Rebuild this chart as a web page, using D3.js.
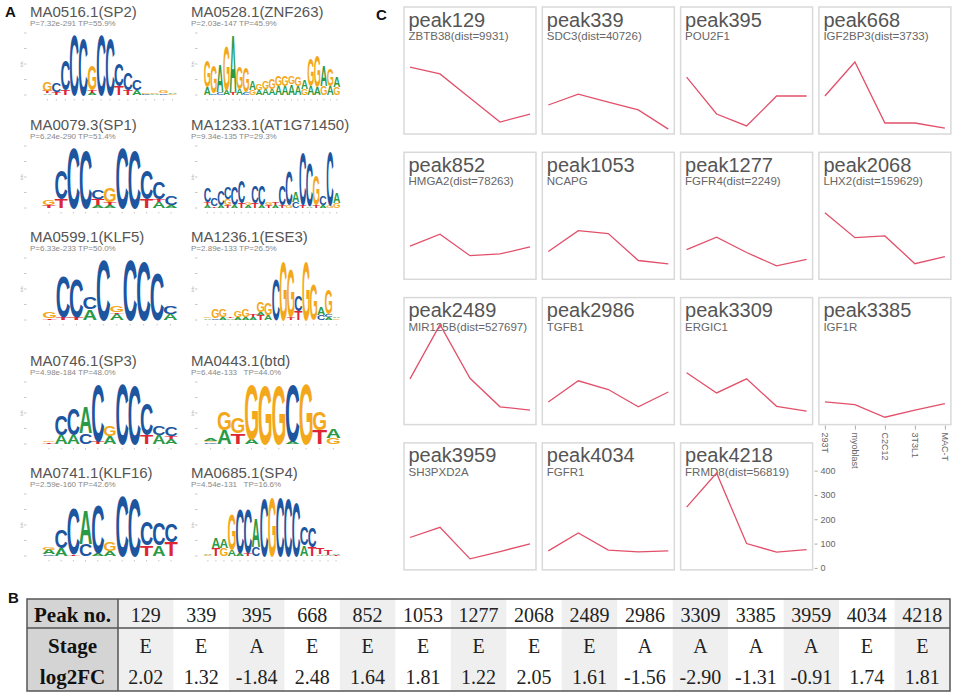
<!DOCTYPE html>
<html>
<head>
<meta charset="utf-8">
<title>Motifs and peaks</title>
<script src="https://cdn.jsdelivr.net/npm/d3@7"></script>
<style>
    body { margin: 0; background: #fff; }
    svg { display: block; font-family: Arial, "Liberation Sans", sans-serif; }
</style>
</head>
<body>
<svg id="fig" width="957" height="696"></svg>
<script>
    // ---- panel A : motif logos (columns bottom -> top, letter + bits) ----
    const motifIds = ["MA0516.1(SP2)", "MA0528.1(ZNF263)", "MA0079.3(SP1)", "MA1233.1(AT1G71450)",
        "MA0599.1(KLF5)", "MA1236.1(ESE3)", "MA0746.1(SP3)", "MA0443.1(btd)", "MA0741.1(KLF16)", "MA0685.1(SP4)"];
    const motifStats = ["P=7.32e-291 TP=55.9%", "P=2.03e-147 TP=45.9%", "P=6.24e-290 TP=51.4%", "P=9.34e-135 TP=29.3%",
        "P=6.33e-233 TP=50.0%", "P=2.89e-133 TP=26.5%", "P=4.98e-184 TP=48.0%", "P=6.44e-133   TP=44.0%",
        "P=2.59e-160 TP=42.6%", "P=4.54e-131   TP=16.6%"];

    const logoSP2 = ["A.05 T.08 G.3", "T.1 C.3", "T.15 C1.0", "C1.98", "C1.83", "A.08 T.07 G.8", "C1.98", "C1.83",
        "T.3 C.72", "T.15 C.55", "A.15 C.33", "C.04 G.04", "A.04 G.05", "C.05 G.06", "G.04 A.05"];
    const logoZNF263 = ["A.25 G.85", "C.05 G.9", "C.1 A.9", "A.15 G1.45", "T.1 A1.9", "A.2 G.75", "C.1 G.8", "G.15 A.3",
        "A.15 G.2", "A.2 G.25", "A.2 G.35", "A.3 G.35", "A.3 G.35", "A.35 G.25", "A.3 G.3", "G.2 A.3", "A.3 G.9",
        "A.25 G1.05", "G.3 A.7", "A.3 G.55", "G.25 A.35"];
    const logoSP1 = ["T.1 G.15", "T.3 C.95", "C1.97", "C1.9", "A.1 T.2 C.3", "A.1 T.1 G.45", "C1.97", "C1.9",
        "T.3 C.95", "A.2 T.1 C.55", "A.1 C.3"];
    const logoAT1G = ["A.1 T.1 C.45", "T.05 C.25", "A.1 C.45", "T.1 G.2 C.4", "A.1 C.6", "T.15 C.75", "A.1 G.1",
        "T.15 C.55", "A.1 C.65", "T.1 G.1", "A.1 T.1", "T.1 C.65", "G.1 C1.1", "C.2 A.35", "T.1 C1.7", "A.05 C1.4",
        "T.1 G1.0", "A.1 C.3", "G.1 C1.75", "G.15 A.35"];
    const logoKLF5 = ["T.05 G.2", "T.1 C1.35", "T.1 C1.25", "A.35 C.4", "C1.97", "A.2 T.05 G.2", "C1.97", "C1.93",
        "C1.55", "A.2 C.25"];
    const logoESE3 = ["A.05 G.05", "C.05 G.3", "A.1 G.25", "A.05 T.05", "A.1 G.2", "A.1 G.25", "A.1 T.1",
        "T.15 A.1 G.35", "A.15 G.4", "C1.35", "G1.95", "T.1 G1.6", "T.3 C.5", "G1.95", "G1.15", "C.15 A.25",
        "A.1 C.1 G.8", "G.05 A.05"];
    const logoSP3 = ["T.05 G.05", "A.3 C.65", "A.3 C.85", "C.35 A.85", "T.1 C1.85", "A.25 G.35", "C2.0", "C1.95",
        "T.3 C1.05", "A.3 C.3", "A.15 T.1 C.3"];
    const logoBtd = ["C.05 G.05 A.08", "A.45 G.6", "T.35 G.5", "A.15 G1.8", "G1.95", "G1.95", "A.1 C1.85", "G2.0",
        "T.45 G.6", "G.2 A.3"];
    const logoKLF16 = ["C.05 A.15 G.1", "A.25 C.6", "T.05 C1.5", "C.4 A1.1", "A.1 C1.6", "A.15 G.3", "C1.98",
        "C1.88", "T.35 C.75", "A.35 C.72", "T.45 C.62"];
    const logoSP4 = ["G.03 A.04", "T.25 A.35", "G.25 A.3", "A.2 G1.15", "A.1 C1.45", "T.1 C1.45", "C.3 A.95",
        "C1.9", "G1.95", "C1.95", "C1.9", "C1.75", "A.35 C.6", "T.3 C.65", "A.05 T.2", "A.03 T.15", "T.03 A.03"];

    const logos = [logoSP2, logoZNF263, logoSP1, logoAT1G, logoKLF5, logoESE3, logoSP3, logoBtd, logoKLF16, logoSP4];
    const logoTitleY = [17, 130, 242, 366, 478];

    // ---- panel C : peak signal across stages ----
    const stages = ["293T", "myoblast", "C2C12", "3T3L1", "MAC-T"];
    const peakNames = ["peak129", "peak339", "peak395", "peak668", "peak852", "peak1053", "peak1277", "peak2068",
        "peak2489", "peak2986", "peak3309", "peak3385", "peak3959", "peak4034", "peak4218"];
    const peakGenes = ["ZBTB38(dist=9931)", "SDC3(dist=40726)", "POU2F1", "IGF2BP3(dist=3733)", "HMGA2(dist=78263)",
        "NCAPG", "FGFR4(dist=2249)", "LHX2(dist=159629)", "MIR125B(dist=527697)", "TGFB1", "ERGIC1", "IGF1R",
        "SH3PXD2A", "FGFR1", "FRMD8(dist=56819)"];
    const peakValues = [
        [267, 239, 140, 41, 74],
        [111, 156, 123, 91, 12],
        [226, 74, 25, 148, 148],
        [148, 288, 37, 37, 16],
        [128, 177, 89, 96, 125],
        [106, 192, 180, 69, 55],
        [114, 165, 102, 47, 74],
        [265, 163, 170, 56, 85],
        [180, 403, 182, 65, 51],
        [85, 172, 136, 65, 126],
        [205, 122, 180, 67, 47],
        [85, 74, 22, 51, 78],
        [125, 167, 37, 67, 99],
        [70, 144, 73, 66, 70],
        [250, 390, 100, 65, 75]
    ];
    const yTicks = [0, 100, 200, 300, 400];

    // ---- panel B : table ----
    const peakNos = ["129", "339", "395", "668", "852", "1053", "1277", "2068", "2489", "2986", "3309", "3385", "3959", "4034", "4218"];
    const stageCalls = ["E", "E", "A", "E", "E", "E", "E", "E", "E", "A", "A", "A", "A", "E", "E"];
    const log2FC = ["2.02", "1.32", "-1.84", "2.48", "1.64", "1.81", "1.22", "2.05", "1.61", "-1.56", "-2.90", "-1.31", "-0.91", "1.74", "1.81"];
    const rowLabels = ["Peak no.", "Stage", "log2FC"];

    const svg = d3.select("#fig");
    const baseColor = { A: "#2a9a47", C: "#1d559f", G: "#f3a81c", T: "#de2533" };

    function parseCol(s) {
        return s.split(" ").map(p => [p[0], +p.slice(1)]);
    }

    function panelLabel(txt, x, y) {
        svg.append("text").attr("x", x).attr("y", y).attr("font-size", 15).attr("font-weight", "bold")
            .attr("fill", "#111").text(txt);
    }

    // ================= Panel A =================
    panelLabel("A", 5, 17);
    const gA = svg.append("g");

    function drawLogo(g, cols, x0, x1, yBase, axisX) {
        const x = d3.scaleBand().domain(d3.range(cols.length)).range([x0, x1]).paddingInner(0.02);
        const y = d3.scaleLinear().domain([0, 2]).range([yBase, yBase - 62]);
        // tiny bits axis
        [0, 0.5, 1, 1.5, 2].forEach(v => {
            g.append("line").attr("x1", axisX).attr("x2", axisX + 2.5).attr("y1", y(v)).attr("y2", y(v))
                .attr("stroke", "#bbb").attr("stroke-width", 0.8);
        });
        g.append("text").attr("transform", `translate(${axisX - 1},${y(1)}) rotate(-90)`)
            .attr("text-anchor", "middle").attr("font-size", 4).attr("fill", "#aaa").text("bits");
        cols.forEach((c, i) => {
            g.append("line").attr("x1", x(i) + x.bandwidth() / 2).attr("x2", x(i) + x.bandwidth() / 2)
                .attr("y1", yBase + 4).attr("y2", yBase + 5.5).attr("stroke", "#bbb").attr("stroke-width", 0.8);
            let acc = 0;
            parseCol(c).forEach(([b, h]) => {
                const yb = y(acc), yt = y(acc + h);
                acc += h;
                if (yb - yt < 0.4) return;
                const t = g.append("text").attr("font-size", 100).attr("font-weight", "bold")
                    .attr("fill", baseColor[b]).text(b);
                const adv = t.node().getComputedTextLength();
                const sx = x.bandwidth() / (adv * 0.9);
                t.attr("transform", `translate(${x(i) - adv * 0.05 * sx},${yb}) scale(${sx},${(yb - yt) / 72})`);
            });
        });
    }

    logos.forEach((cols, k) => {
        const col = k % 2, row = Math.floor(k / 2);
        const tx = col === 0 ? 30 : 191;
        const ty = logoTitleY[row];
        gA.append("text").attr("x", tx).attr("y", ty).attr("font-size", 15).attr("fill", "#555").text(motifIds[k]);
        gA.append("text").attr("x", tx).attr("y", ty + 9).attr("font-size", 8).attr("fill", "#888")
            .style("white-space", "pre").text(motifStats[k]);
        const x0 = col === 0 ? 43 : 204, x1 = col === 0 ? 177 : 340;
        drawLogo(gA, cols, x0, x1, ty + 78, col === 0 ? 24 : 195);
    });

    // ================= Panel C =================
    panelLabel("C", 376, 20);
    const boxW = 132, boxH = 127;
    const xC = d3.scalePoint().domain(stages).range([6, boxW - 6]);
    const yC = d3.scaleLinear().domain([0, 514]).range([boxH - 2, 0]);
    const line = d3.line().x((d, i) => xC(stages[i])).y(d => yC(d));

    peakNames.forEach((name, i) => {
        const left = 404 + (i % 4) * 138.3;
        const top = 7 + Math.floor(i / 4) * 145.3;
        const g = svg.append("g").attr("transform", `translate(${left},${top})`);
        g.append("rect").attr("x", 0).attr("y", 0).attr("width", boxW).attr("height", boxH)
            .attr("fill", "#fff").attr("stroke", "#d9d9d9").attr("stroke-width", 1.5);
        g.append("text").attr("x", 4.5).attr("y", 19.5).attr("font-size", 20).attr("fill", "#555").text(name);
        g.append("text").attr("x", 4.5).attr("y", 33).attr("font-size", 11.5).attr("fill", "#666").text(peakGenes[i]);
        g.append("path").datum(peakValues[i]).attr("d", line).attr("fill", "none")
            .attr("stroke", "#e2506a").attr("stroke-width", 1.3);

        if (name === "peak3385") {
            const ax = g.append("g").attr("transform", `translate(0,${boxH + 1})`)
                .call(d3.axisBottom(xC).tickSize(4));
            ax.select(".domain").remove();
            ax.selectAll("line").attr("stroke", "#aaa");
            ax.selectAll("text").attr("transform", "rotate(90)").attr("x", 7).attr("y", 0).attr("dy", "0.35em")
                .attr("text-anchor", "start").attr("font-size", 9).attr("fill", "#666")
                .attr("font-family", "Arial, 'Liberation Sans', sans-serif");
        }
        if (name === "peak4218") {
            const ay = g.append("g").attr("transform", `translate(${boxW + 2},0)`)
                .call(d3.axisRight(yC).tickValues(yTicks).tickSize(3).tickPadding(3));
            ay.select(".domain").remove();
            ay.selectAll("line").attr("stroke", "#aaa");
            ay.selectAll("text").attr("font-size", 9).attr("fill", "#666")
                .attr("font-family", "Arial, 'Liberation Sans', sans-serif");
        }
    });

    // ================= Panel B =================
    panelLabel("B", 8, 603);
    const tLeft = 27, tSplit = 118, tRight = 950;
    const rowY = [599, 628, 660, 691];
    const baseY = [622, 653, 684];
    const tx = d3.scaleBand().domain(peakNos).range([tSplit, tRight]);
    const gB = svg.append("g").attr("font-family", "'Liberation Serif', 'Times New Roman', serif");

    gB.append("rect").attr("x", tLeft).attr("y", rowY[0]).attr("width", tSplit - tLeft)
        .attr("height", rowY[3] - rowY[0]).attr("fill", "#d4d4d4");
    gB.selectAll("rect.band").data(peakNos.filter((d, i) => i % 2 === 0)).enter().append("rect")
        .attr("class", "band").attr("x", d => tx(d)).attr("y", rowY[0]).attr("width", tx.bandwidth())
        .attr("height", rowY[3] - rowY[0]).attr("fill", "#efefef");

    rowLabels.forEach((lab, r) => {
        gB.append("text").attr("x", (tLeft + tSplit) / 2).attr("y", baseY[r]).attr("text-anchor", "middle")
            .attr("font-size", 21).attr("font-weight", "bold").attr("fill", "#111").text(lab);
    });
    [peakNos, stageCalls, log2FC].forEach((vals, r) => {
        gB.selectAll(null).data(vals).enter().append("text")
            .attr("x", (d, i) => tx(peakNos[i]) + tx.bandwidth() / 2).attr("y", baseY[r])
            .attr("text-anchor", "middle").attr("font-size", 20).attr("fill", "#222").text(d => d);
    });

    gB.append("rect").attr("x", tLeft).attr("y", rowY[0]).attr("width", tRight - tLeft)
        .attr("height", rowY[3] - rowY[0]).attr("fill", "none").attr("stroke", "#555").attr("stroke-width", 1.5);
    gB.append("line").attr("x1", tLeft).attr("x2", tRight).attr("y1", rowY[1]).attr("y2", rowY[1])
        .attr("stroke", "#555").attr("stroke-width", 1.5);
    gB.append("line").attr("x1", tSplit).attr("x2", tSplit).attr("y1", rowY[0]).attr("y2", rowY[3])
        .attr("stroke", "#555").attr("stroke-width", 1.5);
</script>
</body>
</html>
